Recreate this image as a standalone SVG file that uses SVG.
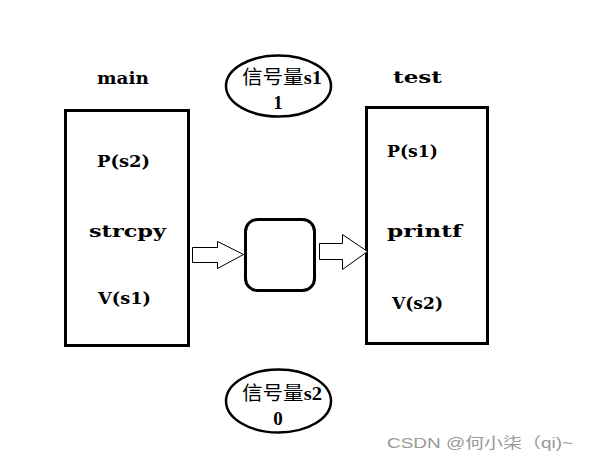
<svg xmlns="http://www.w3.org/2000/svg" width="590" height="464" viewBox="0 0 590 464">
<style>
.t{font-family:"DejaVu Serif","Liberation Serif",serif;font-weight:bold;font-size:17px;fill:#000}
.c{font-family:"Liberation Serif","Noto Sans CJK SC",serif;font-weight:bold;font-size:19px;fill:#000}
.cj{font-family:"Noto Sans CJK SC",sans-serif;font-weight:normal}
.box{fill:#fff;stroke:#000;stroke-width:3}
.arr{fill:#fff;stroke:#000;stroke-width:1}
.wm{font-family:"Liberation Sans","Noto Sans CJK SC",sans-serif;font-size:15px;fill:#999}
</style>
<rect width="590" height="464" fill="#fff"/>
<g id="main">
<text class="t" x="97" y="84" textLength="52" lengthAdjust="spacingAndGlyphs">main</text>
<rect class="box" x="65.5" y="110.5" width="123" height="235"/>
<text class="t" x="97" y="167" textLength="53" lengthAdjust="spacingAndGlyphs">P(s2)</text>
<text class="t" x="89" y="237" textLength="77" lengthAdjust="spacingAndGlyphs">strcpy</text>
<text class="t" x="98" y="304" textLength="53" lengthAdjust="spacingAndGlyphs">V(s1)</text>
</g>
<g id="test">
<text class="t" x="393" y="83" textLength="49" lengthAdjust="spacingAndGlyphs">test</text>
<rect class="box" x="366.5" y="107.5" width="121" height="236"/>
<text class="t" x="387" y="157" textLength="51" lengthAdjust="spacingAndGlyphs">P(s1)</text>
<text class="t" x="387" y="237" textLength="75" lengthAdjust="spacingAndGlyphs">printf</text>
<text class="t" x="392" y="309" textLength="51" lengthAdjust="spacingAndGlyphs">V(s2)</text>
</g>
<g id="s1">
<ellipse cx="278.5" cy="86" rx="52.5" ry="30.5" fill="#fff" stroke="#000" stroke-width="2.5"/>
<text class="c" x="242" y="84" textLength="80" lengthAdjust="spacingAndGlyphs"><tspan class="cj">信号量</tspan>s1</text>
<text class="c" x="278" y="109" text-anchor="middle">1</text>
</g>
<g id="s2">
<ellipse cx="278.5" cy="401" rx="52.5" ry="31.5" fill="#fff" stroke="#000" stroke-width="2.5"/>
<text class="c" x="242" y="400" textLength="80" lengthAdjust="spacingAndGlyphs"><tspan class="cj">信号量</tspan>s2</text>
<text class="c" x="278" y="425" text-anchor="middle">0</text>
</g>
<g id="buffer">
<rect class="box" x="245.5" y="219.5" width="69" height="71" rx="12" ry="12"/>
</g>
<g id="connectors">
<polygon class="arr" points="192.5,247.5 217.5,247.5 217.5,241.5 243.5,254.5 217.5,268.5 217.5,262.5 192.5,262.5"/>
<polygon class="arr" points="319.5,243.5 342.5,243.5 342.5,234.5 367.5,251.5 342.5,269.5 342.5,259.5 319.5,259.5"/>
</g>
<text class="wm" x="387" y="448" textLength="186" lengthAdjust="spacingAndGlyphs">CSDN @何小柒（qi)~</text>
</svg>
